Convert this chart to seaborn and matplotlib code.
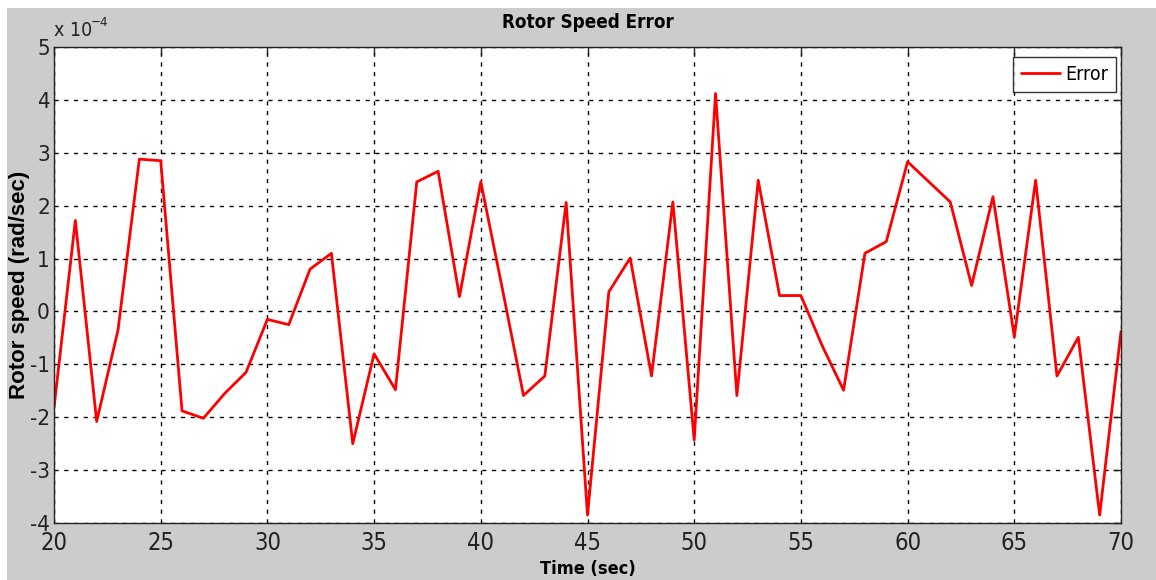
import matplotlib
matplotlib.use("Agg")
import matplotlib.pyplot as plt
from matplotlib.patches import Rectangle
from matplotlib import font_manager
import seaborn as sns
import pandas as pd

time_sec = [20, 21, 22, 23, 24, 25, 26, 27, 28, 29, 30, 31, 32, 33, 34, 35, 36, 37, 38, 39,
            40, 41, 42, 43, 44, 45, 46, 47, 48, 49, 50, 51, 52, 53, 54, 55, 56, 57, 58, 59,
            60, 61, 62, 63, 64, 65, 66, 67, 68, 69, 70]
error_e4 = [-1.82, 1.72, -2.08, -0.35, 2.88, 2.85, -1.88, -2.02, -1.55, -1.15, -0.15, -0.25, 0.80, 1.10, -2.50, -0.80, -1.48, 2.45, 2.65, 0.28,
            2.45, 0.45, -1.59, -1.22, 2.06, -3.85, 0.37, 1.01, -1.22, 2.07, -2.43, 4.12, -1.59, 2.48, 0.30, 0.30, -0.65, -1.49, 1.10, 1.32,
            2.83, 2.45, 2.07, 0.49, 2.17, -0.48, 2.48, -1.22, -0.49, -3.85, -0.38]
x_ticks = [20, 25, 30, 35, 40, 45, 50, 55, 60, 65, 70]
y_ticks = [-4, -3, -2, -1, 0, 1, 2, 3, 4, 5]

df = pd.DataFrame({"Time": time_sec, "Error": error_e4})

sns.set_style("white")
plt.rcParams['font.family'] = ['Liberation Sans', 'DejaVu Sans']
plt.rcParams['text.color'] = 'black'

# look for a narrow / condensed font (MATLAB-like Arial Narrow look)
narrow_reg = None
narrow_bold = None
for f in font_manager.fontManager.ttflist:
    fn = f.fname.lower()
    if ("narrow" in fn or "condensed" in fn) and "mono" not in fn and "serif" not in fn:
        if ("bold" in fn) and "oblique" not in fn and "italic" not in fn:
            if narrow_bold is None or "liberation" in fn:
                narrow_bold = f.fname
        elif "bold" not in fn and "oblique" not in fn and "italic" not in fn:
            if narrow_reg is None or "liberation" in fn:
                narrow_reg = f.fname


def fp(size, bold=False):
    path = narrow_bold if bold else narrow_reg
    if path:
        return font_manager.FontProperties(fname=path, size=size)
    return font_manager.FontProperties(family=['Liberation Sans', 'DejaVu Sans'], size=size,
                                       weight="bold" if bold else "normal")


fig = plt.figure(figsize=(11.56, 5.80), dpi=100)
fig.patch.set_facecolor("white")
fig.patches.append(Rectangle((7 / 1156, 0), 1 - 7 / 1156, 1 - 8 / 580,
                             transform=fig.transFigure, facecolor="#cccccc",
                             edgecolor="none", zorder=-10))
ax = fig.add_axes([54 / 1156, 1 - 523 / 580, (1121 - 54) / 1156, (523 - 47) / 580])
ax.set_facecolor("white")

sns.lineplot(data=df, x="Time", y="Error", ax=ax, color="red", linewidth=2.0, label="Error")

ax.set_xlim(20, 70)
ax.set_ylim(-4, 5)
ax.set_xticks(x_ticks)
ax.set_yticks(y_ticks)
ax.set_xticklabels([str(t) for t in x_ticks], fontproperties=fp(17))
ax.set_yticklabels([str(t) for t in y_ticks], fontproperties=fp(16))
ax.tick_params(direction="in", length=6, width=1, colors="#222222",
               top=True, right=True, pad=3)
ax.tick_params(axis="x", pad=6)
ax.grid(True, color="black", linestyle=(0, (3, 4)), linewidth=1)
for s in ax.spines.values():
    s.set_color("#222222")
    s.set_linewidth(1)

ax.set_title("Rotor Speed Error", fontproperties=fp(13.5, bold=True), pad=14, color="black")
ax.set_xlabel("Time (sec)", fontproperties=fp(13, bold=True), labelpad=3, color="black")
ax.set_ylabel("Rotor speed (rad/sec)", fontsize=16, fontweight="bold",
              family=['Liberation Sans', 'DejaVu Sans'], color="black")
ax.yaxis.set_label_coords((30 - 54) / 1067, 0.5)
fig.text(54 / 1156, 1 - 31 / 580, "x 10", fontproperties=fp(14), color="#222222",
         va="center", ha="left")
fig.text(91 / 1156, 1 - 22 / 580, "\u2212" + "4", fontproperties=fp(9.5), color="#222222",
         va="center", ha="left")

leg = ax.legend(loc="upper right", prop=fp(14), frameon=True, fancybox=False,
                edgecolor="black", handlelength=2.0, borderaxespad=0, borderpad=0.4,
                handletextpad=0.3,
                bbox_to_anchor=((1116 - 54) / 1067, (523 - 57) / 476))
leg.get_frame().set_linewidth(1)

fig.savefig("out.png", dpi=100)
